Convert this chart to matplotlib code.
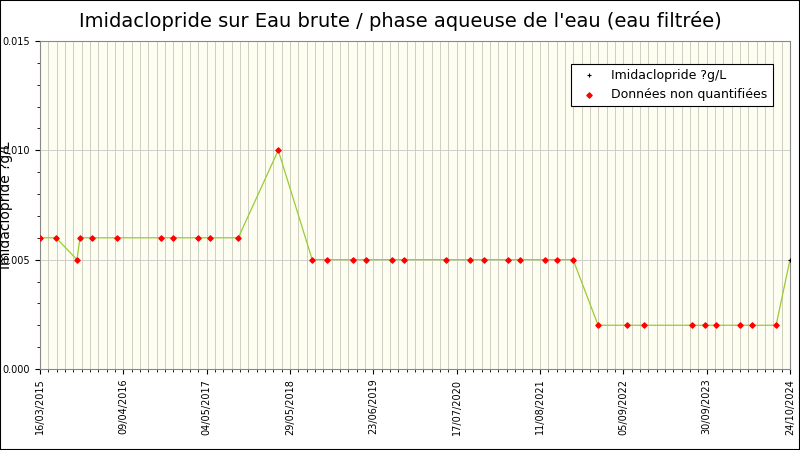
import matplotlib
matplotlib.use("Agg")
import matplotlib.pyplot as plt
import matplotlib.dates as mdates
import pandas as pd

dates = ["2015-03-16", "2015-05-30", "2015-09-05", "2015-09-19", "2015-11-14",
         "2016-03-10", "2016-10-03", "2016-11-28", "2017-03-25", "2017-05-21",
         "2017-09-29", "2018-04-04", "2018-09-10", "2018-11-19", "2019-03-21",
         "2019-05-21", "2019-09-19", "2019-11-15", "2020-05-29", "2020-09-18",
         "2020-11-23", "2021-03-15", "2021-05-10", "2021-09-04", "2021-10-31",
         "2022-01-13", "2022-05-10", "2022-09-23", "2022-12-12", "2023-07-24",
         "2023-09-23", "2023-11-14", "2024-03-05", "2024-04-30", "2024-08-20",
         "2024-10-24"]
values = [0.006, 0.006, 0.005, 0.006, 0.006, 0.006, 0.006, 0.006, 0.006, 0.006,
          0.006, 0.010, 0.005, 0.005, 0.005, 0.005, 0.005, 0.005, 0.005, 0.005,
          0.005, 0.005, 0.005, 0.005, 0.005, 0.005, 0.002, 0.002, 0.002, 0.002,
          0.002, 0.002, 0.002, 0.002, 0.002, 0.005]
quantified = [False] * 35 + [True]
tick_dates = ["2015-03-16", "2016-04-09", "2017-05-04", "2018-05-29", "2019-06-23",
              "2020-07-17", "2021-08-11", "2022-09-05", "2023-09-30", "2024-10-24"]

d = pd.to_datetime(dates)
ticks = pd.to_datetime(tick_dates)

fig = plt.figure(figsize=(8, 4.5), dpi=100)
ax = fig.add_axes([0.05, 0.18, 0.9375, 0.729])
ax.set_facecolor("#fdfdf2")

# minor vertical grid: 10 per major interval
minor = []
for a, b in zip(ticks[:-1], ticks[1:]):
    step = (b - a) / 10
    minor += [a + step * i for i in range(1, 10)]
ax.set_xticks(mdates.date2num(minor), minor=True)
ax.set_xticks(mdates.date2num(ticks))
ax.set_xticklabels([t.strftime("%d/%m/%Y") for t in ticks], rotation=90, fontsize=7)
ax.grid(True, which="both", axis="x", color="#c8c8b8", linewidth=0.6)
ax.grid(True, which="major", axis="y", color="#c8c8c8", linewidth=0.6)

ax.plot(d, values, color="#99cc33", linewidth=0.9, zorder=2)
nq = [i for i, q in enumerate(quantified) if not q]
qq = [i for i, q in enumerate(quantified) if q]
ax.scatter(d[qq], [values[i] for i in qq], marker="+", s=8, color="black", zorder=3,
           label="Imidaclopride ?g/L", linewidths=0.8)
ax.scatter(d[nq], [values[i] for i in nq], marker="D", s=7, color="red", zorder=3,
           label="Données non quantifiées")

ax.set_xlim(ticks[0], ticks[-1])
ax.set_ylim(0, 0.015)
ax.set_yticks([0, 0.005, 0.010, 0.015])
ax.set_yticklabels(["0.000", "0.005", "0.010", "0.015"], fontsize=7)
ax.yaxis.set_minor_locator(matplotlib.ticker.MultipleLocator(0.001))
ax.tick_params(axis="y", which="minor", length=2)
ax.set_ylabel("Imidaclopride ?g/L", fontsize=10)
ax.yaxis.set_label_coords(-0.036, 0.5)
for s in ax.spines.values():
    s.set_color("#888888")

leg = ax.legend(loc="upper right", bbox_to_anchor=(0.985, 0.95), fontsize=9,
                fancybox=False, edgecolor="black", framealpha=1)
leg.get_frame().set_linewidth(0.8)

fig.suptitle("Imidaclopride sur Eau brute / phase aqueuse de l'eau (eau filtrée)",
             fontsize=14, y=0.975)
fig.patches.append(plt.Rectangle((0, 0), 1, 1, transform=fig.transFigure,
                                 fill=False, edgecolor="black", linewidth=1.5))
fig.savefig("out.png", dpi=100)
